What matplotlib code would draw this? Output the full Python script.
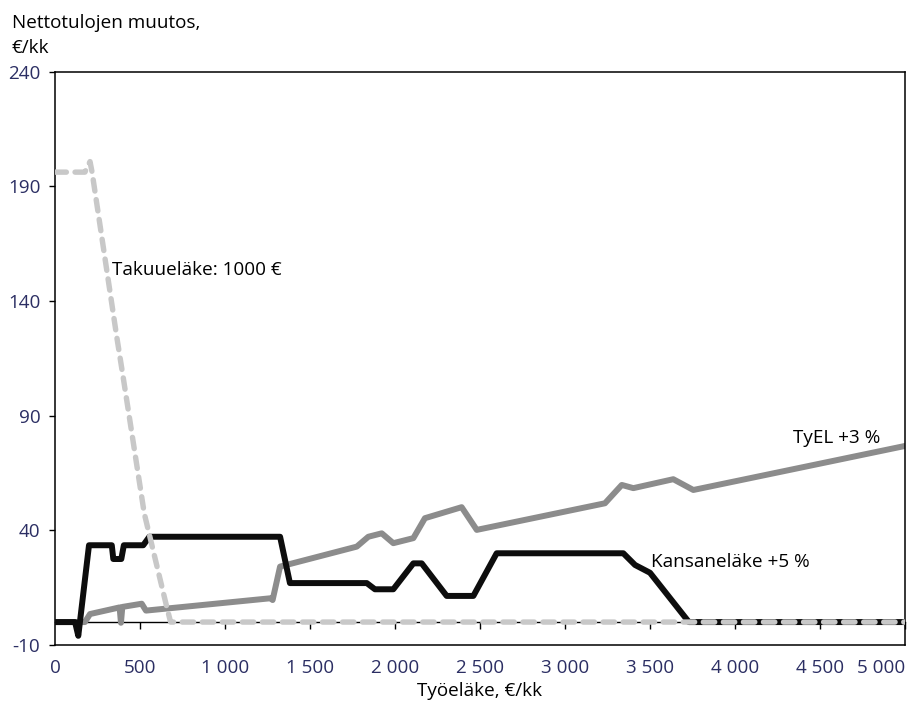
import matplotlib
matplotlib.use('Agg')
import matplotlib.pyplot as plt

# Kansaneläke +5 % (black)
kela_x = [0, 118, 137, 200, 334, 343, 390, 405, 519, 555, 1324, 1382, 1834, 1882, 1990,
          2108, 2157, 2304, 2461, 2598, 3343, 3412, 3500, 3729, 5000]
kela_y = [0, 0, -6, 33.5, 33.5, 27.5, 27.5, 33.5, 33.5, 37.2, 37.2, 17, 17, 14.3, 14.3,
          25.6, 25.6, 11.4, 11.4, 30, 30, 24.9, 21.5, 0, 0]

# TyEL +3 % (mid grey)
tyel_x = [0, 176, 206, 380, 388, 396, 510, 535, 1270, 1280, 1324, 1775, 1843, 1922, 1990,
          2108, 2176, 2392, 2481, 3235, 3334, 3402, 3637, 3755, 5000]
tyel_y = [0, 0, 3.5, 6.4, -0.3, 6.6, 8.0, 5.0, 10.4, 9.6, 24.2, 32.9, 37.2, 38.7, 34.4,
          36.6, 45.3, 50.1, 40.2, 51.8, 59.8, 58.4, 62.3, 57.6, 76.8]

# Takuueläke: 1000 € (light grey, dashed)
taku_x = [0, 176, 206, 218, 363, 402, 525, 657, 680, 5000]
taku_y = [196.2, 196.2, 200.8, 196.2, 124.5, 106.3, 47.4, 6.7, 0, 0]

xticks = [0, 500, 1000, 1500, 2000, 2500, 3000, 3500, 4000, 4500, 5000]
xlabels = ['0', '500', '1 000', '1 500', '2 000', '2 500', '3 000', '3 500', '4 000', '4 500', '5 000']
yticks = [-10, 40, 90, 140, 190, 240]

plt.rcParams['font.family'] = ['Open Sans', 'DejaVu Sans']
plt.rcParams['axes.unicode_minus'] = False
fs = 13.6
navy = '#2b2e63'

fig = plt.figure(figsize=(9.19, 7.08), dpi=100)
ax = fig.add_axes([55/919, 1 - 645/708, 850/919, (645 - 71.7)/708])

ax.plot(tyel_x, tyel_y, color='#8c8c8c', lw=4.3, solid_joinstyle='round', zorder=2)
ax.plot(kela_x, kela_y, color='#0d0d0d', lw=4.3, solid_joinstyle='round', zorder=3)
ax.plot(taku_x, taku_y, color='#c8c8c8', lw=3.9, dashes=(2.1, 1.6),
        dash_capstyle='round', zorder=4)

ax.set_xlim(0, 5000)
ax.set_ylim(-10, 240)
ax.set_xticks(xticks)
ax.set_xticklabels(xlabels)
ax.get_xticklabels()[-1].set_ha('right')
ax.get_xticklabels()[-1].set_x(5000)
ax.set_yticks(yticks)
ax.tick_params(axis='x', length=0, pad=10, labelsize=fs, labelcolor=navy)
ax.tick_params(axis='y', direction='out', length=4.5, width=1, pad=6, labelsize=fs, labelcolor=navy)
for s in ax.spines.values():
    s.set_linewidth(1.1)

# zero line with its own ticks
ymin, ymax = ax.get_ylim()
zero = ax.secondary_xaxis((0 - ymin) / (ymax - ymin))
zero.set_xticks(xticks[1:])
zero.tick_params(direction='out', length=5, width=1, labelbottom=False, labeltop=False)
zero.spines['bottom'].set_linewidth(1)

ax.text(333, 153.5, 'Takuueläke: 1000 €', fontsize=fs, ha='left', va='center')
ax.text(4857, 80.2, 'TyEL +3 %', fontsize=fs, ha='right', va='center')
ax.text(3504, 26.3, 'Kansaneläke +5 %', fontsize=fs, ha='left', va='center')

fig.text(12/919, 1 - 28/708, 'Nettotulojen muutos,', fontsize=fs, va='baseline', ha='left')
fig.text(12/919, 1 - 53/708, '€/kk', fontsize=fs, va='baseline', ha='left')
fig.text(480/919, 1 - 696/708, 'Työeläke, €/kk', fontsize=fs, va='baseline', ha='center')

fig.savefig('out.png', dpi=100)
